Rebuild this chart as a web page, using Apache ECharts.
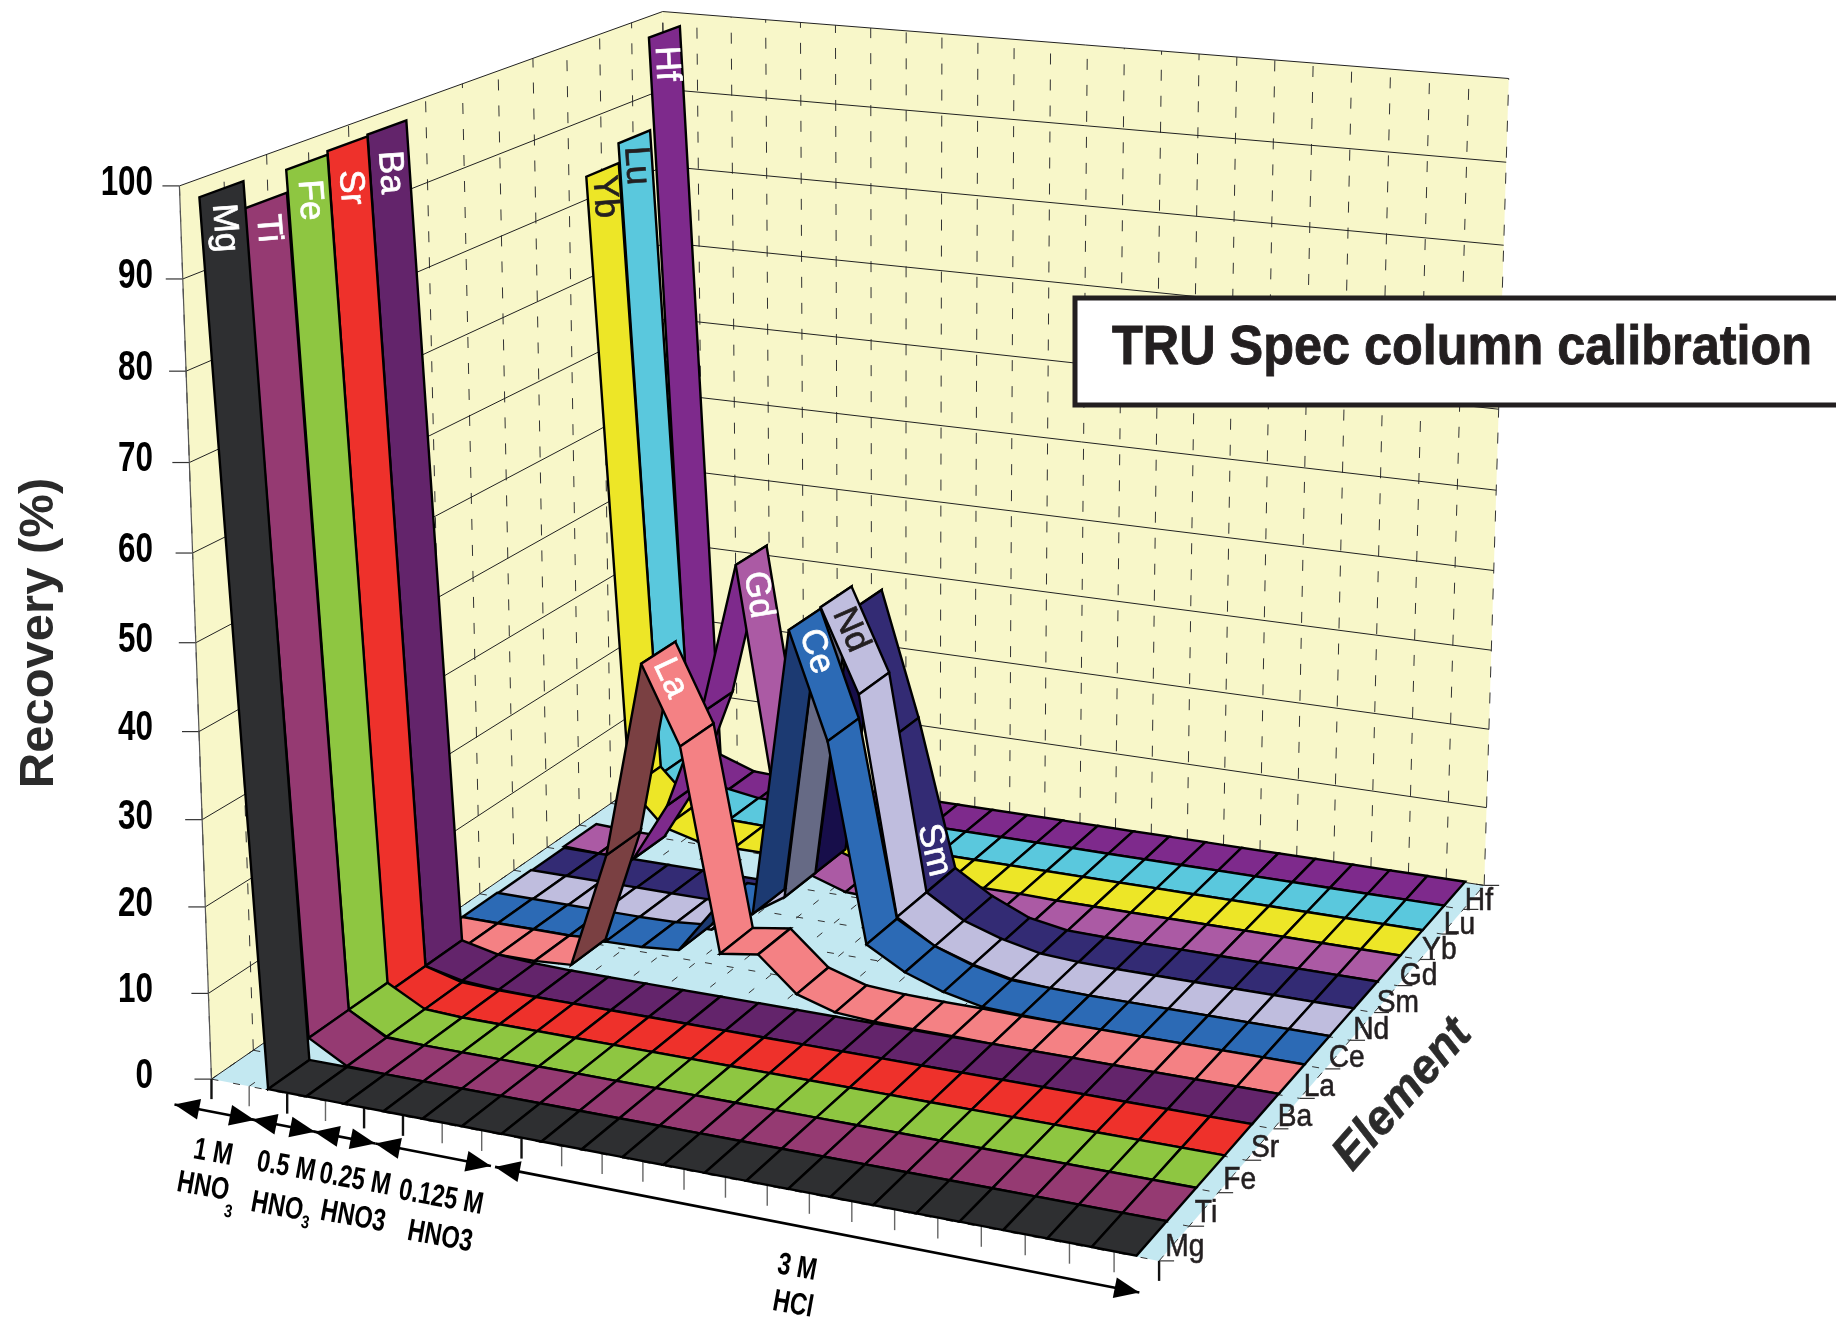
<!DOCTYPE html>
<html>
<head>
<meta charset="utf-8">
<title>TRU Spec column calibration</title>
<script src="https://cdn.jsdelivr.net/npm/echarts@6/dist/echarts.min.js"></script>
<style>
html, body { margin: 0; padding: 0; background: #fff; }
#chart { width: 1836px; height: 1322px; }
</style>
</head>
<body>
<div id="chart"></div>
<script>
// data
var elements = ['Mg', 'Ti', 'Fe', 'Sr', 'Ba', 'La', 'Ce', 'Nd', 'Sm', 'Gd', 'Yb', 'Lu', 'Hf'];
var valueTicks = [0, 10, 20, 30, 40, 50, 60, 70, 80, 90, 100];
var fractionSections = [[0, 2], [2, 4], [4, 5], [5, 8], [8, 23]];
var sectionArrows = [[-0.2, 1.9], [1.83, 3.46], [3.44, 5], [5, 7.9], [8, 23]];

var recMg = [99, 0.1, 0.1, 0.1, 0.1, 0.1, 0.1, 0.1, 0.1, 0.1, 0.1, 0.1, 0.1, 0.1, 0.1, 0.1, 0.1, 0.1, 0.1, 0.1, 0.1, 0.1, 0.1];
var recTi = [96, 2.7, 0.2, 0.1, 0.1, 0.1, 0.1, 0.1, 0.1, 0.1, 0.1, 0.1, 0.1, 0.1, 0.1, 0.1, 0.1, 0.1, 0.1, 0.1, 0.1, 0.1, 0.1];
var recFe = [98.5, 2.7, 0.3, 0.1, 0.1, 0.1, 0.1, 0.1, 0.1, 0.1, 0.1, 0.1, 0.1, 0.1, 0.1, 0.1, 0.1, 0.1, 0.1, 0.1, 0.1, 0.1, 0.1];
var recSr = [98.9, 1.5, 0.3, 0.1, 0.1, 0.1, 0.1, 0.1, 0.1, 0.1, 0.1, 0.1, 0.1, 0.1, 0.1, 0.1, 0.1, 0.1, 0.1, 0.1, 0.1, 0.1, 0.1];
var recBa = [99.1, 1.5, 0.5, 0.2, 0.1, 0.1, 0.1, 0.1, 0.1, 0.1, 0.1, 0.1, 0.1, 0.1, 0.1, 0.1, 0.1, 0.1, 0.1, 0.1, 0.1, 0.1, 0.1];
var recLa = [0.5, 0.5, 0.5, 0.5, 0.8, 15, 38.7, 29.5, 5.3, 6, 2, 0.6, 0.3, 0.2, 0.2, 0.1, 0.1, 0.1, 0.1, 0.1, 0.1, 0.1, 0.1];
var recCe = [0.5, 0.5, 0.5, 0.5, 0.5, 0.6, 1, 7, 7, 42, 29.4, 5.6, 3, 1.4, 0.4, 0.2, 0.1, 0.1, 0.1, 0.1, 0.1, 0.1, 0.1];
var recNd = [0.4, 0.4, 0.4, 0.4, 0.4, 0.4, 0.4, 3, 6, 42.2, 32.3, 5.8, 3, 1.5, 0.5, 0.2, 0.1, 0.1, 0.1, 0.1, 0.1, 0.1, 0.1];
var recSm = [0.3, 0.3, 0.3, 0.3, 0.3, 0.3, 0.3, 2, 6, 39.3, 24, 5.8, 3, 1, 0.2, 0.1, 0.1, 0.1, 0.1, 0.1, 0.1, 0.1, 0.1];
var recGd = [0.5, 0.3, 0.3, 8, 20.6, 40, 12, 2, 0.5, 0.3, 0.3, 0.2, 0.2, 0.1, 0.1, 0.1, 0.1, 0.1, 0.1, 0.1, 0.1, 0.1, 0.1];
var recYb = [84, 6, 1.5, 0.3, 0.2, 0.2, 0.1, 0.1, 0.1, 0.1, 0.1, 0.1, 0.1, 0.1, 0.1, 0.1, 0.1, 0.1, 0.1, 0.1, 0.1, 0.1, 0.1];
var recLu = [86.5, 5, 1, 0.3, 0.2, 0.2, 0.1, 0.1, 0.1, 0.1, 0.1, 0.1, 0.1, 0.1, 0.1, 0.1, 0.1, 0.1, 0.1, 0.1, 0.1, 0.1, 0.1];
var recHf = [98.3, 2, 0.4, 0.2, 0.1, 0.1, 0.1, 0.1, 0.1, 0.1, 0.1, 0.1, 0.1, 0.1, 0.1, 0.1, 0.1, 0.1, 0.1, 0.1, 0.1, 0.1, 0.1];
var recovery = [recMg, recTi, recFe, recSr, recBa, recLa, recCe, recNd, recSm, recGd, recYb, recLu, recHf];

var nFrac = 23, nElem = elements.length;

// ribbon colours: top face, underside
var topColor = ['#2E2F31', '#953A72', '#8EC641', '#EE312B', '#63246B', '#F48184', '#2C6AB5', '#BFBDDE', '#332B74', '#AB5AA4', '#EDE627', '#5AC8DD', '#7E2A8C'];
var underColor = ['#2E2F31', '#953A72', '#8EC641', '#EE312B', '#63246B', '#7A4042', '#1C3A72', '#666A85', '#170E4A', '#7E2A8C', '#EDE627', '#5AC8DD', '#7E2A8C'];

// camera: cube corners on screen, solved to a 3x4 projective matrix
var cubeCorners = [
    [0, 0, 0, 211, 1078], [1, 0, 0, 1159, 1262], [1, 1, 0, 1484, 884], [0, 1, 0, 672, 763],
    [0, 0, 1, 180, 186], [0, 1, 1, 662, 11], [1, 1, 1, 1509, 79]
];

function solveCamera(pts) {
    var A = [], b = [];
    pts.forEach(function (p) {
        var X = p[0], Y = p[1], Z = p[2], u = p[3], v = p[4];
        A.push([X, Y, Z, 1, 0, 0, 0, 0, -u * X, -u * Y, -u * Z]); b.push(u);
        A.push([0, 0, 0, 0, X, Y, Z, 1, -v * X, -v * Y, -v * Z]); b.push(v);
    });
    var n = 11, M = [];
    for (var r = 0; r < n; r++) {
        M[r] = [];
        for (var c = 0; c <= n; c++) {
            var s = 0;
            for (var k = 0; k < A.length; k++) s += A[k][r] * (c < n ? A[k][c] : b[k]);
            M[r][c] = s;
        }
    }
    for (var i = 0; i < n; i++) {
        var best = i;
        for (var j = i + 1; j < n; j++) if (Math.abs(M[j][i]) > Math.abs(M[best][i])) best = j;
        var t = M[i]; M[i] = M[best]; M[best] = t;
        for (j = 0; j < n; j++) {
            if (j === i) continue;
            var f = M[j][i] / M[i][i];
            for (var m = i; m <= n; m++) M[j][m] -= f * M[i][m];
        }
    }
    return M.map(function (row, idx) { return row[n] / row[idx]; });
}
var cam = solveCamera(cubeCorners);

// fraction position (0..23), element position (0..13), recovery (0..100) to screen
function project(f, e, v) {
    var X = f / nFrac, Y = e / nElem, Z = v / 100;
    var w = cam[8] * X + cam[9] * Y + cam[10] * Z + 1;
    return [(cam[0] * X + cam[1] * Y + cam[2] * Z + cam[3]) / w, (cam[4] * X + cam[5] * Y + cam[6] * Z + cam[7]) / w];
}

function line(a, b, color, width, dash) {
    return { type: 'line', shape: { x1: a[0], y1: a[1], x2: b[0], y2: b[1] }, style: { stroke: color, lineWidth: width, lineDash: dash || null }, silent: true };
}
function poly(points, fill, stroke, width) {
    return { type: 'polygon', shape: { points: points }, style: { fill: fill, stroke: stroke || null, lineWidth: width || 0, lineJoin: 'miter', miterLimit: 6 }, silent: true };
}

// walls, floor, grid, ticks and section arrows
function renderFrame() {
    var kids = [];
    kids.push(poly([project(0, 0, 0), project(0, nElem, 0), project(0, nElem, 100), project(0, 0, 100)], '#F8F7C9'));
    kids.push(poly([project(0, nElem, 0), project(nFrac, nElem, 0), project(nFrac, nElem, 100), project(0, nElem, 100)], '#F8F7C9'));
    kids.push(poly([project(0, 0, 0), project(nFrac, 0, 0), project(nFrac, nElem, 0), project(0, nElem, 0)], '#C3E8F1'));

    var dashWall = [11, 15], dashFloor = [7, 15];
    for (var i = 0; i <= nFrac; i++) {
        kids.push(line(project(i, nElem, 0), project(i, nElem, 100), '#333', 1, dashWall));
        kids.push(line(project(i, 0, 0), project(i, nElem, 0), '#333', 1, dashFloor));
    }
    for (var e = 0; e <= nElem; e++) {
        kids.push(line(project(0, e, 0), project(0, e, 100), '#333', 1, dashWall));
        kids.push(line(project(0, e, 0), project(nFrac, e, 0), '#333', 1, dashFloor));
    }
    valueTicks.forEach(function (v) {
        var p = project(0, 0, v);
        kids.push(line(project(0, 0, v), project(0, nElem, v), '#222', 1));
        kids.push(line(project(0, nElem, v), project(nFrac, nElem, v), '#222', 1));
        kids.push(line([p[0] - 17, p[1]], p, '#333', 1.2));
    });
    kids.push(line(project(0, 0, 0), project(0, 0, 100), '#555', 1.2));

    var majors = [];
    fractionSections.forEach(function (s) { majors.push(s[0], s[1]); });
    for (i = 0; i <= nFrac; i++) {
        var q = project(i, 0, 0), major = majors.indexOf(i) >= 0;
        kids.push(line(q, [q[0], q[1] + 20], major ? '#111' : '#666', major ? 2.4 : 1.4));
    }
    for (e = 0; e <= nElem; e++) {
        var t = project(nFrac, e, 0);
        kids.push(line(t, [t[0] + 15, t[1]], '#333', 1.2));
    }

    sectionArrows.forEach(function (s) {
        var a = project(s[0], -0.8, 0), b = project(s[1], -0.8, 0);
        a = [a[0] + 5, a[1] + 3]; b = [b[0] + 5, b[1] + 3];
        var dx = b[0] - a[0], dy = b[1] - a[1], len = Math.sqrt(dx * dx + dy * dy);
        var ux = dx / len, uy = dy / len, hl = 25, hw = 10.5;
        kids.push(line(a, b, '#000', 2.6));
        kids.push(poly([a, [a[0] + ux * hl - uy * hw, a[1] + uy * hl + ux * hw], [a[0] + ux * hl + uy * hw, a[1] + uy * hl - ux * hw]], '#000'));
        kids.push(poly([b, [b[0] - ux * hl - uy * hw, b[1] - uy * hl + ux * hw], [b[0] - ux * hl + uy * hw, b[1] - uy * hl - ux * hw]], '#000'));
    });
    return { type: 'group', children: kids };
}

// one cell per pair of neighbouring fractions, back ribbon first
var cells = [];
for (var eb = nElem - 1; eb >= 0; eb--) {
    for (var fb = 0; fb < nFrac - 1; fb++) {
        cells.push([fb, eb, recovery[eb][fb], recovery[eb][fb + 1]]);
    }
}

function renderCell(params, api) {
    var f = api.value(0), e = api.value(1), v0 = api.value(2), v1 = api.value(3);
    var a = project(f + 0.5, e, v0), b = project(f + 1.5, e, v1), c = project(f + 1.5, e + 1, v1), d = project(f + 0.5, e + 1, v0);
    var area = (b[0] - a[0]) * (d[1] - a[1]) - (b[1] - a[1]) * (d[0] - a[0]);
    var fill = area < 0 ? topColor[e] : underColor[e];
    return poly([a, b, c, d], fill, '#000', 2.4);
}

// text
function text(str, x, y, opt) {
    opt = opt || {};
    var color = opt.color || '#231F20';
    return {
        type: 'text', x: x, y: y, z: 100, silent: true,
        rotation: opt.rot || 0, scaleX: opt.sx || 1,
        style: {
            text: str, fill: color, font: opt.font, align: opt.align || 'center', verticalAlign: 'middle',
            stroke: opt.heavy ? color : null, lineWidth: opt.heavy || 0
        }
    };
}

var graphics = [];

// title box
graphics.push({ type: 'rect', z: 99, silent: true, shape: { x: 1075, y: 298, width: 780, height: 107 }, style: { fill: '#fff', stroke: '#231F20', lineWidth: 5 } });
graphics.push(text('TRU Spec column calibration', 1462, 349, { font: 'bold 56px "Liberation Sans"', sx: 0.9, heavy: 0.9 }));

// value axis
valueTicks.forEach(function (v) {
    var p = project(0, 0, v);
    graphics.push(text(String(v), 153, p[1] - 3, { font: 'bold 43px "Liberation Sans"', sx: 0.73, align: 'right', color: '#000' }));
});
graphics.push(text('Recovery (%)', 39, 633, { font: 'bold 49px "Liberation Sans"', rot: Math.PI / 2, color: '#2b2b2b' }));

// element axis
elements.forEach(function (name, i) {
    var p = project(nFrac, i + 0.5, 0);
    graphics.push(text(name, p[0] - 9, p[1] + 4, { font: '32px "Liberation Sans"', sx: 0.88, align: 'left', heavy: 0.6 }));
});
graphics.push(text('Element', 1403, 1095, { font: 'italic bold 48px "Liberation Sans"', rot: 0.85, sx: 0.98, color: '#2b2b2b', heavy: 0.6 }));

// fraction sections
var sectionLabels = [
    ['1 M', 213, 1153], ['HNO', 203, 1187], ['0.5 M', 286, 1167], ['HNO', 277, 1207],
    ['0.25 M', 355, 1180], ['HNO3', 353, 1217], ['0.125 M', 441, 1198], ['HNO3', 440, 1237],
    ['3 M', 797, 1268], ['HCl', 793, 1305]
];
sectionLabels.forEach(function (l) {
    graphics.push(text(l[0], l[1], l[2], { font: 'bold 31px "Liberation Sans"', sx: 0.76, rot: -0.18, color: '#000' }));
});
var subscripts = [[228, 1212], [305, 1223]];
subscripts.forEach(function (s) {
    graphics.push(text('3', s[0], s[1], { font: 'bold 18px "Liberation Sans"', sx: 0.8, rot: -0.18, color: '#000' }));
});

// labels along the ribbons: element index, segment start, distance from its top, colour
var ribbonLabels = [
    [0, 0, 39, '#fff'], [1, 0, 28, '#fff'], [2, 0, 38, '#fff'], [3, 0, 44, '#fff'], [4, 0, 45, '#fff'],
    [5, 6, 28, '#fff'], [6, 9, 34, '#fff'], [7, 9, 36, '#231F20'], [8, 10, 125, '#fff'], [9, 5, 40, '#fff'],
    [10, 0, 27, '#231F20'], [11, 0, 29, '#231F20'], [12, 0, 32, '#fff']
];
ribbonLabels.forEach(function (l) {
    var a = project(l[1] + 0.5, l[0] + 0.5, recovery[l[0]][l[1]]);
    var b = project(l[1] + 1.5, l[0] + 0.5, recovery[l[0]][l[1] + 1]);
    var dx = b[0] - a[0], dy = b[1] - a[1], len = Math.sqrt(dx * dx + dy * dy);
    graphics.push(text(elements[l[0]], a[0] + dx / len * l[2], a[1] + dy / len * l[2], {
        font: '35px "Liberation Sans"', rot: -Math.atan2(dy, dx), color: l[3], heavy: 0.7
    }));
});

var myChart = echarts.init(document.getElementById('chart'), null, { renderer: 'canvas' });
var option = {
    animation: false,
    backgroundColor: '#fff',
    graphic: { elements: graphics },
    series: [
        { type: 'custom', name: 'frame', coordinateSystem: 'none', z: 1, silent: true, data: [[0]], renderItem: renderFrame },
        { type: 'custom', name: 'recovery', coordinateSystem: 'none', z: 2, silent: true, progressive: 0, data: cells, renderItem: renderCell }
    ]
};
myChart.setOption(option);
</script>
</body>
</html>
